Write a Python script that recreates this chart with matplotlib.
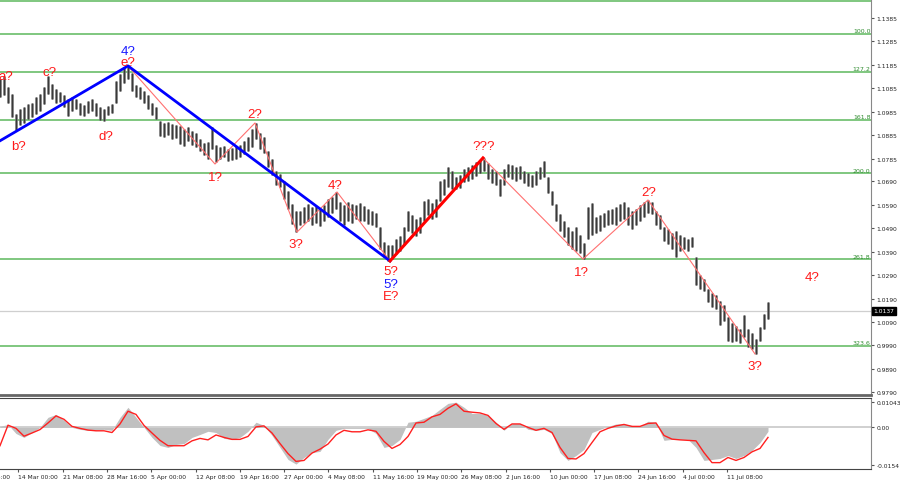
import numpy as np
import matplotlib
matplotlib.use('Agg')
import matplotlib.pyplot as plt
import matplotlib.transforms as mtrans

# EURUSD H4 bars (one plotted bar per ~3 real bars), high / low
bar_high = [
    1.1125, 1.1138, 1.1091, 1.1061, 1.0976, 1.0997, 1.1006, 1.1019, 1.1023, 1.1049,
    1.1061, 1.1091, 1.1138, 1.1104, 1.1083, 1.1070, 1.1057, 1.1040, 1.1049, 1.1040,
    1.1023, 1.1014, 1.1031, 1.1040, 1.1023, 1.1006, 1.0997, 1.1010, 1.1019, 1.1117,
    1.1147, 1.1176, 1.1185, 1.1151, 1.1100, 1.1091, 1.1074, 1.1057, 1.1023, 1.1006,
    1.0946, 1.0938, 1.0942, 1.0934, 1.0929, 1.0925, 1.0912, 1.0921, 1.0904, 1.0895,
    1.0870, 1.0853, 1.0857, 1.0921, 1.0844, 1.0836, 1.0840, 1.0827, 1.0831, 1.0840,
    1.0844, 1.0861, 1.0878, 1.0912, 1.0938, 1.0895, 1.0878, 1.0818, 1.0784, 1.0733,
    1.0721, 1.0691, 1.0648, 1.0593, 1.0563, 1.0563, 1.0580, 1.0593, 1.0580, 1.0584,
    1.0571, 1.0588, 1.0614, 1.0623, 1.0644, 1.0601, 1.0588, 1.0601, 1.0593, 1.0588,
    1.0597, 1.0584, 1.0571, 1.0563, 1.0554, 1.0495, 1.0431, 1.0418, 1.0418, 1.0444,
    1.0456, 1.0495, 1.0563, 1.0546, 1.0529, 1.0537, 1.0605, 1.0614, 1.0597, 1.0614,
    1.0691, 1.0699, 1.0750, 1.0733, 1.0708, 1.0716, 1.0742, 1.0750, 1.0759, 1.0772,
    1.0780, 1.0789, 1.0767, 1.0742, 1.0733, 1.0699, 1.0742, 1.0763, 1.0759, 1.0750,
    1.0755, 1.0733, 1.0725, 1.0716, 1.0733, 1.0750, 1.0776, 1.0708, 1.0648, 1.0593,
    1.0550, 1.0520, 1.0495, 1.0478, 1.0495, 1.0461, 1.0427, 1.0580, 1.0597, 1.0537,
    1.0546, 1.0554, 1.0567, 1.0571, 1.0580, 1.0593, 1.0601, 1.0580, 1.0563, 1.0571,
    1.0588, 1.0601, 1.0610, 1.0601, 1.0563, 1.0546, 1.0495, 1.0486, 1.0469, 1.0478,
    1.0461, 1.0452, 1.0444, 1.0452, 1.0367, 1.0290, 1.0273, 1.0231, 1.0214, 1.0205,
    1.0179, 1.0162, 1.0111, 1.0086, 1.0073, 1.0060, 1.0120, 1.0060, 1.0043, 1.0018,
    1.0069, 1.0124, 1.0175]
bar_low = [
    1.1049, 1.1057, 1.1023, 1.0963, 1.0908, 1.0929, 1.0938, 1.0955, 1.0963, 1.0976,
    1.0989, 1.1019, 1.1061, 1.1040, 1.1023, 1.1027, 1.1006, 1.0968, 1.0989, 1.0997,
    1.0972, 1.0968, 1.0980, 1.0989, 1.0968, 1.0951, 1.0946, 1.0972, 1.0980, 1.1023,
    1.1074, 1.1108, 1.1125, 1.1074, 1.1049, 1.1040, 1.1023, 1.0997, 1.0972, 1.0955,
    1.0882, 1.0878, 1.0887, 1.0870, 1.0874, 1.0848, 1.0840, 1.0861, 1.0844, 1.0836,
    1.0818, 1.0802, 1.0784, 1.0827, 1.0772, 1.0784, 1.0793, 1.0776, 1.0780, 1.0784,
    1.0793, 1.0806, 1.0818, 1.0836, 1.0870, 1.0827, 1.0810, 1.0750, 1.0716, 1.0674,
    1.0665, 1.0614, 1.0571, 1.0508, 1.0473, 1.0503, 1.0512, 1.0520, 1.0503, 1.0512,
    1.0499, 1.0520, 1.0537, 1.0554, 1.0571, 1.0520, 1.0503, 1.0520, 1.0512, 1.0529,
    1.0520, 1.0520, 1.0508, 1.0503, 1.0495, 1.0401, 1.0367, 1.0350, 1.0358, 1.0380,
    1.0392, 1.0418, 1.0478, 1.0469, 1.0456, 1.0469, 1.0520, 1.0546, 1.0529, 1.0537,
    1.0605, 1.0631, 1.0665, 1.0657, 1.0657, 1.0661, 1.0686, 1.0691, 1.0699, 1.0712,
    1.0725, 1.0733, 1.0699, 1.0682, 1.0674, 1.0627, 1.0674, 1.0708, 1.0699, 1.0691,
    1.0699, 1.0682, 1.0670, 1.0665, 1.0674, 1.0699, 1.0708, 1.0640, 1.0588, 1.0520,
    1.0478, 1.0452, 1.0418, 1.0401, 1.0392, 1.0384, 1.0358, 1.0444, 1.0461, 1.0469,
    1.0478, 1.0495, 1.0503, 1.0508, 1.0503, 1.0520, 1.0529, 1.0503, 1.0486, 1.0503,
    1.0520, 1.0537, 1.0554, 1.0550, 1.0503, 1.0486, 1.0435, 1.0422, 1.0401, 1.0367,
    1.0392, 1.0401, 1.0392, 1.0410, 1.0248, 1.0231, 1.0222, 1.0175, 1.0154, 1.0145,
    1.0077, 1.0094, 1.0009, 1.0005, 1.0009, 1.0001, 1.0027, 0.9984, 0.9975, 0.9954,
    1.0009, 1.0060, 1.0103]
last_price = 1.0137

# MACD (every second plotted bar)
macd_hist = [
    0.0004, 0.0012, -0.0025, -0.0041, -0.0021, 0.0, 0.0041, 0.0053, 0.0029, 0.0,
    -0.0008, -0.0012, -0.0012, -0.0008, -0.0012, 0.0041, 0.0082, 0.0041, 0.0, -0.0041,
    -0.0074, -0.0082, -0.0070, -0.0066, -0.0041, -0.0029, -0.0016, -0.0021, -0.0045, -0.0049,
    -0.0041, -0.0016, 0.0021, 0.0008, -0.0033, -0.0082, -0.0131, -0.0150, -0.0123, -0.0103,
    -0.0098, -0.0049, -0.0012, -0.0004, -0.0004, -0.0004, -0.0004, -0.0025, -0.0082, -0.0074,
    -0.0049, 0.0021, 0.0025, 0.0037, 0.0049, 0.0074, 0.0098, 0.0103, 0.0082, 0.0057,
    0.0057, 0.0049, 0.0021, -0.0012, 0.0016, 0.0016, -0.0008, -0.0012, -0.0008, -0.0025,
    -0.0103, -0.0135, -0.0115, -0.0090, -0.0021, -0.0008, 0.0004, 0.0014, 0.0014, 0.0008,
    0.0004, 0.0025, 0.0021, -0.0053, -0.0049, -0.0049, -0.0049, -0.0082, -0.0135, -0.0131,
    -0.0127, -0.0115, -0.0127, -0.0115, -0.0094, -0.0062, -0.0016]
macd_signal = [
    -0.0075, 0.0009, -0.0004, -0.0036, -0.0023, -0.0009, 0.0018, 0.0047, 0.0033, 0.0004,
    -0.0004, -0.0011, -0.0014, -0.0014, -0.0021, 0.0014, 0.0066, 0.0053, 0.0008, -0.0023,
    -0.0053, -0.0075, -0.0075, -0.0075, -0.0055, -0.0045, -0.0051, -0.0031, -0.0041, -0.0049,
    -0.0049, -0.0037, 0.0002, 0.0006, -0.0023, -0.0066, -0.0107, -0.0139, -0.0135, -0.0105,
    -0.0089, -0.0068, -0.0031, -0.0012, -0.0018, -0.0018, -0.0010, -0.0016, -0.0057, -0.0086,
    -0.0070, -0.0037, 0.0018, 0.0021, 0.0043, 0.0053, 0.0078, 0.0096, 0.0066, 0.0062,
    0.0059, 0.0049, 0.0016, -0.0008, 0.0014, 0.0014, 0.0, -0.0012, -0.0004, -0.0021,
    -0.0082, -0.0127, -0.0129, -0.0107, -0.0062, -0.0018, -0.0004, 0.0006, 0.0012, 0.0004,
    0.0004, 0.0016, 0.0018, -0.0033, -0.0048, -0.0051, -0.0053, -0.0055, -0.0103, -0.0144,
    -0.0144, -0.0123, -0.0135, -0.0123, -0.0100, -0.0086, -0.0041]

# Fibonacci extension levels
fib_pcts = [76.4, 100.0, 127.2, 161.8, 200.0, 261.8, 323.6]
fib_0 = 1.1912
fib_100 = 1.1318

# wave lines (bar index, price)
blue_idx = [0, 32, 97.5]
blue_px = [1.0862, 1.1181, 1.0350]
red_idx = [97.5, 120.75]
red_px = [1.0350, 1.0789]
thin1_idx = [32, 53.75, 63.75, 74.25, 84.25, 97.5]
thin1_px = [1.1181, 1.0763, 1.0938, 1.0473, 1.0644, 1.0350]
thin2_idx = [120.75, 145.75, 162, 188.75]
thin2_px = [1.0789, 1.0358, 1.0610, 0.9954]

# wave labels
wave_text = ['a?', 'b?', 'c?', 'd?', '4?', 'e?', '1?', '2?', '3?', '4?', '5?', '5?', 'E?',
             '???', '1?', '2?', '3?', '4?']
wave_color = ['r', 'r', 'r', 'r', 'b', 'r', 'r', 'r', 'r', 'r', 'r', 'b', 'r',
              'r', 'r', 'r', 'r', 'r']
wave_idx = [1.5, 4.6, 12.5, 26.5, 32, 32, 53.75, 63.6, 74, 83.75, 97.75, 97.75, 97.75,
            121, 145.25, 162.25, 188.75, 203]
wave_px = [1.1138, 1.0840, 1.1155, 1.0882, 1.1246, 1.1198, 1.0708, 1.0976, 1.0422, 1.0674,
           1.0307, 1.0252, 1.0201, 1.0840, 1.0303, 1.0644, 0.9904, 1.0282]

price_ticks = [1.1385, 1.1285, 1.1185, 1.1085, 1.0985, 1.0885, 1.0785, 1.0690, 1.0590,
               1.0490, 1.0390, 1.0290, 1.0190, 1.0090, 0.9990, 0.9890, 0.9790]
date_labels = ['4 Mar 16:00', '14 Mar 00:00', '21 Mar 08:00', '28 Mar 16:00', '5 Apr 00:00',
               '12 Apr 08:00', '19 Apr 16:00', '27 Apr 00:00', '4 May 08:00', '11 May 16:00',
               '19 May 00:00', '26 May 08:00', '2 Jun 16:00', '10 Jun 00:00', '17 Jun 08:00',
               '24 Jun 16:00', '4 Jul 00:00', '11 Jul 08:00']
macd_ticks = [0.01043, 0.0, -0.0154]
macd_tick_labels = ['0.01043', '0.00', '-0.0154']

W, H = 900, 485
fs = 4.3
fig = plt.figure(figsize=(W / 100, H / 100), dpi=100)
fig.patch.set_facecolor('white')
ax = fig.add_axes([0, 1 - 396 / H, 871 / W, 396 / H])
ax2 = fig.add_axes([0, 1 - 470 / H, 871 / W, 71 / H], sharex=ax)

x = np.arange(len(bar_high))
x2 = np.arange(0, len(bar_high), 2)[:len(macd_hist)]

# fib levels
for p in fib_pcts:
    lvl = fib_0 + (fib_100 - fib_0) * p / 100
    ax.axhline(lvl, color='#5cb85c', lw=1.1, zorder=1)
    ax.text(0.9995, lvl + 0.0002, '%.1f' % p, transform=ax.get_yaxis_transform(),
            ha='right', va='bottom', fontsize=4.5, color='#2e8b2e', clip_on=True)

ax.axhline(last_price, color='#cfcfcf', lw=0.9, zorder=1)

# price bars
ax.vlines(x, bar_low, bar_high, color='#707070', lw=1.9, zorder=2)
ax.vlines(x, bar_low, bar_high, color='#303030', lw=0.6, zorder=2)

# wave lines
ax.plot(thin1_idx, thin1_px, color='#ff7070', lw=0.8, zorder=3)
ax.plot(thin2_idx, thin2_px, color='#ff7070', lw=0.8, zorder=3)
ax.plot(blue_idx, blue_px, color='#0000ff', lw=2, zorder=4)
ax.plot(red_idx, red_px, color='#ff0000', lw=2.2, zorder=4)

cmap = {'r': '#ff1a1a', 'b': '#1a1aff'}
for t, c, xi, yp in zip(wave_text, wave_color, wave_idx, wave_px):
    ax.text(xi, yp, t, color=cmap[c], fontsize=9.5, ha='center', va='center',
            family='Liberation Sans', zorder=5)

ax.set_xlim(0, 871 / 4)
ax.set_ylim(1.1466 - 396 * 0.000426, 1.1466)
ax.yaxis.tick_right()
ax.set_yticks(price_ticks)
ax.set_yticklabels(['%.4f' % v for v in price_ticks])
ax.tick_params(axis='y', labelsize=fs, length=2, pad=2, color='#555', labelcolor='#222')
ax.tick_params(axis='x', bottom=False, labelbottom=False)
for s in ['top', 'left']:
    ax.spines[s].set_visible(False)
ax.spines['right'].set_color('#888')
ax.spines['bottom'].set_color('#666')
ax.spines['bottom'].set_linewidth(2)

ax.text(1.003, last_price, '%.4f' % last_price, transform=ax.get_yaxis_transform(),
        ha='left', va='center', fontsize=fs, color='white',
        bbox=dict(boxstyle='square,pad=0.3', fc='black', ec='black'))

# MACD panel
ax2.axhline(0, color='#c8c8c8', lw=1.2, zorder=1)
ax2.fill_between(x2, 0, macd_hist, color='#c0c0c0', lw=0, zorder=2)
ax2.plot(x2, macd_signal, color='#ff2020', lw=1, zorder=3)
ax2.set_ylim(-0.0170, 0.0120)
ax2.yaxis.tick_right()
ax2.set_yticks(macd_ticks)
ax2.set_yticklabels(macd_tick_labels)
ax2.tick_params(axis='y', labelsize=fs, length=2, pad=2, color='#555', labelcolor='#222')
ax2.spines['left'].set_visible(False)
ax2.spines['top'].set_color('#444')
ax2.spines['right'].set_color('#888')
ax2.spines['bottom'].set_color('#444')

tick_x = [(18.3 + 44.3 * (k - 1)) / 4 for k in range(len(date_labels))]
ax2.set_xticks(tick_x[1:])
ax2.set_xticklabels(date_labels[1:])
for lab in ax2.get_xticklabels():
    lab.set_ha('left')
ax2.tick_params(axis='x', labelsize=fs, length=2, pad=1.5, color='#555', labelcolor='#222')
trans = mtrans.offset_copy(ax2.get_xaxis_transform(), fig=fig, x=0, y=-3.5, units='points')
ax2.text(tick_x[0], 0, date_labels[0], transform=trans, ha='left', va='top',
         fontsize=fs, color='#222', clip_on=False)

fig.savefig('out.png', dpi=100)
